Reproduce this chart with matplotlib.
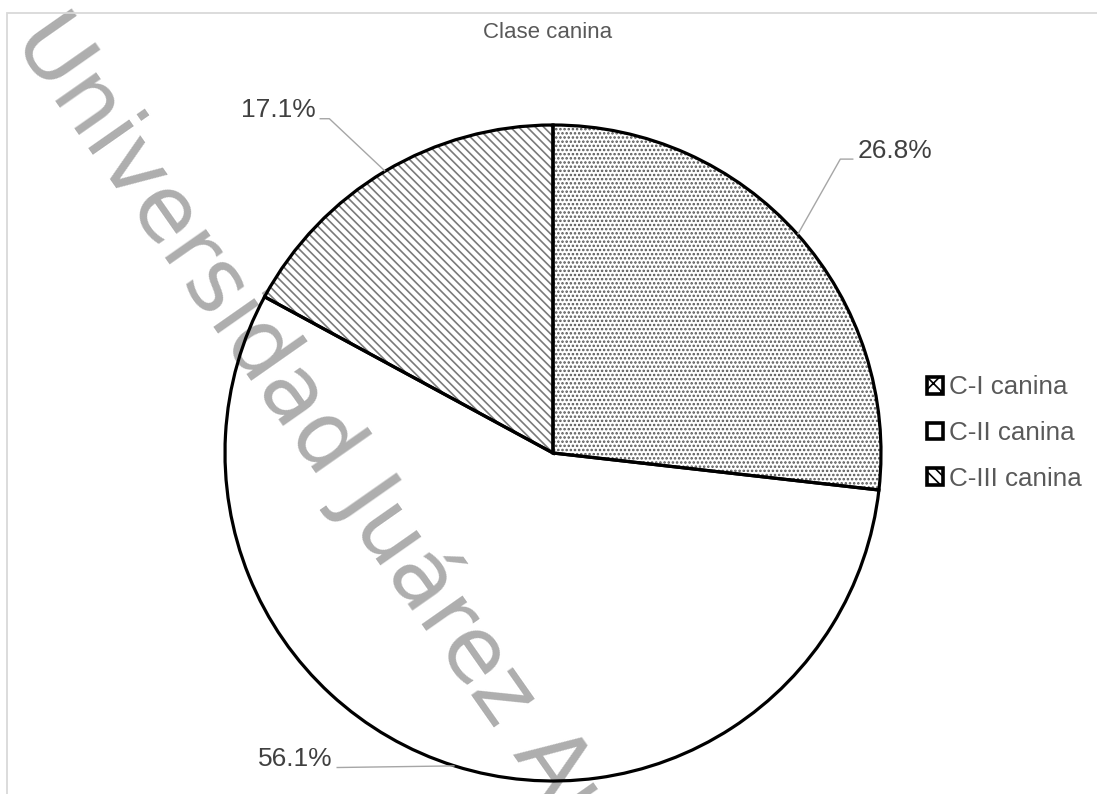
import numpy as np
import matplotlib
matplotlib.use("Agg")
import matplotlib.pyplot as plt
from matplotlib.patches import Patch, Rectangle

plt.rcParams['font.family'] = ['Liberation Sans', 'DejaVu Sans']
plt.rcParams['hatch.linewidth'] = 1.2

# datos
categorias = ['C-I canina', 'C-II canina', 'C-III canina']
porcentajes = [26.8, 56.1, 17.1]
tramas = ['....', '', '\\\\\\\\']
colores_trama = ['#555555', 'none', '#7a7a7a']
etiquetas = ['26.8%', '56.1%', '17.1%']

W, H = 1097, 794
fig = plt.figure(figsize=(W / 100, H / 100), dpi=100)
ax = fig.add_axes([0, 0, 1, 1])

# centro del pastel en pixeles y radio
cx, cy, R = 553, 453, 328

# marca de agua (por debajo del pastel)
ax.text(12 / W, 1 - 40 / H, 'Universidad Juárez Autónoma de Tabasco',
        transform=fig.transFigure, rotation=-55, rotation_mode='anchor',
        ha='left', va='baseline', fontsize=65, color='#aeaeae',
        family='DejaVu Sans', zorder=0, clip_on=False)

# relleno con tramas
wedges, _ = ax.pie(porcentajes, startangle=90, counterclock=False, radius=1,
                   wedgeprops=dict(linewidth=0))
for w, t, c in zip(wedges, tramas, colores_trama):
    if t:
        w.set_facecolor('white')
        w.set_edgecolor(c)
        w.set_hatch(t)
    else:
        w.set_facecolor('none')
    w.set_zorder(1)

# contornos
bordes, _ = ax.pie(porcentajes, startangle=90, counterclock=False, radius=1,
                   wedgeprops=dict(linewidth=2.3, edgecolor='black', facecolor='none'))
for b in bordes:
    b.set_zorder(2)

ax.set_xlim(-cx / R, (W - cx) / R)
ax.set_ylim(-(H - cy) / R, cy / R)
ax.set_aspect('equal')
ax.axis('off')
ax.patch.set_visible(False)

# etiquetas con lineas guia (codo y texto desplazados desde el punto medio del arco)
desplaz = [((0.13, 0.23), (0.17, 0.23), 'left'),
           ((-0.36, -0.005), (-0.36, -0.005), 'right'),
           ((-0.17, 0.16), (-0.2, 0.16), 'right')]
for w, lab, (codo, fin, ha) in zip(wedges, etiquetas, desplaz):
    ang = np.deg2rad((w.theta1 + w.theta2) / 2)
    x0, y0 = np.cos(ang), np.sin(ang)
    xs = [x0, x0 + codo[0], x0 + fin[0]]
    ys = [y0, y0 + codo[1], y0 + fin[1]]
    ax.plot(xs, ys, color='#a6a6a6', lw=1.0, zorder=3, solid_capstyle='butt')
    off = 0.012 if ha == 'left' else -0.012
    ax.text(xs[-1] + off, ys[-1] + 0.026, lab, ha=ha, va='center',
            fontsize=19, color='#404040', zorder=4)

fig.text(548 / W, 1 - 33 / H, 'Clase canina', ha='center', va='center',
         fontsize=16, color='#595959')

# marco del grafico
fig.patches.append(Rectangle((7 / W, -0.01), 1.0, 1 - 13 / H + 0.01,
                             transform=fig.transFigure, fill=False,
                             edgecolor='#d9d9d9', lw=1.3))

manejadores = [Patch(facecolor='white', edgecolor='black', hatch=t, lw=2.6)
               for t in ['xx', '', '\\\\\\']]
fig.legend(manejadores, categorias, loc='center left',
           bbox_to_anchor=(927 / W, 1 - 433 / H), frameon=False,
           fontsize=18.7, labelcolor='#595959', handlelength=0.6,
           handleheight=0.6, handletextpad=0.25, labelspacing=0.83,
           borderpad=0, borderaxespad=0)

fig.savefig('out.png', dpi=100)
